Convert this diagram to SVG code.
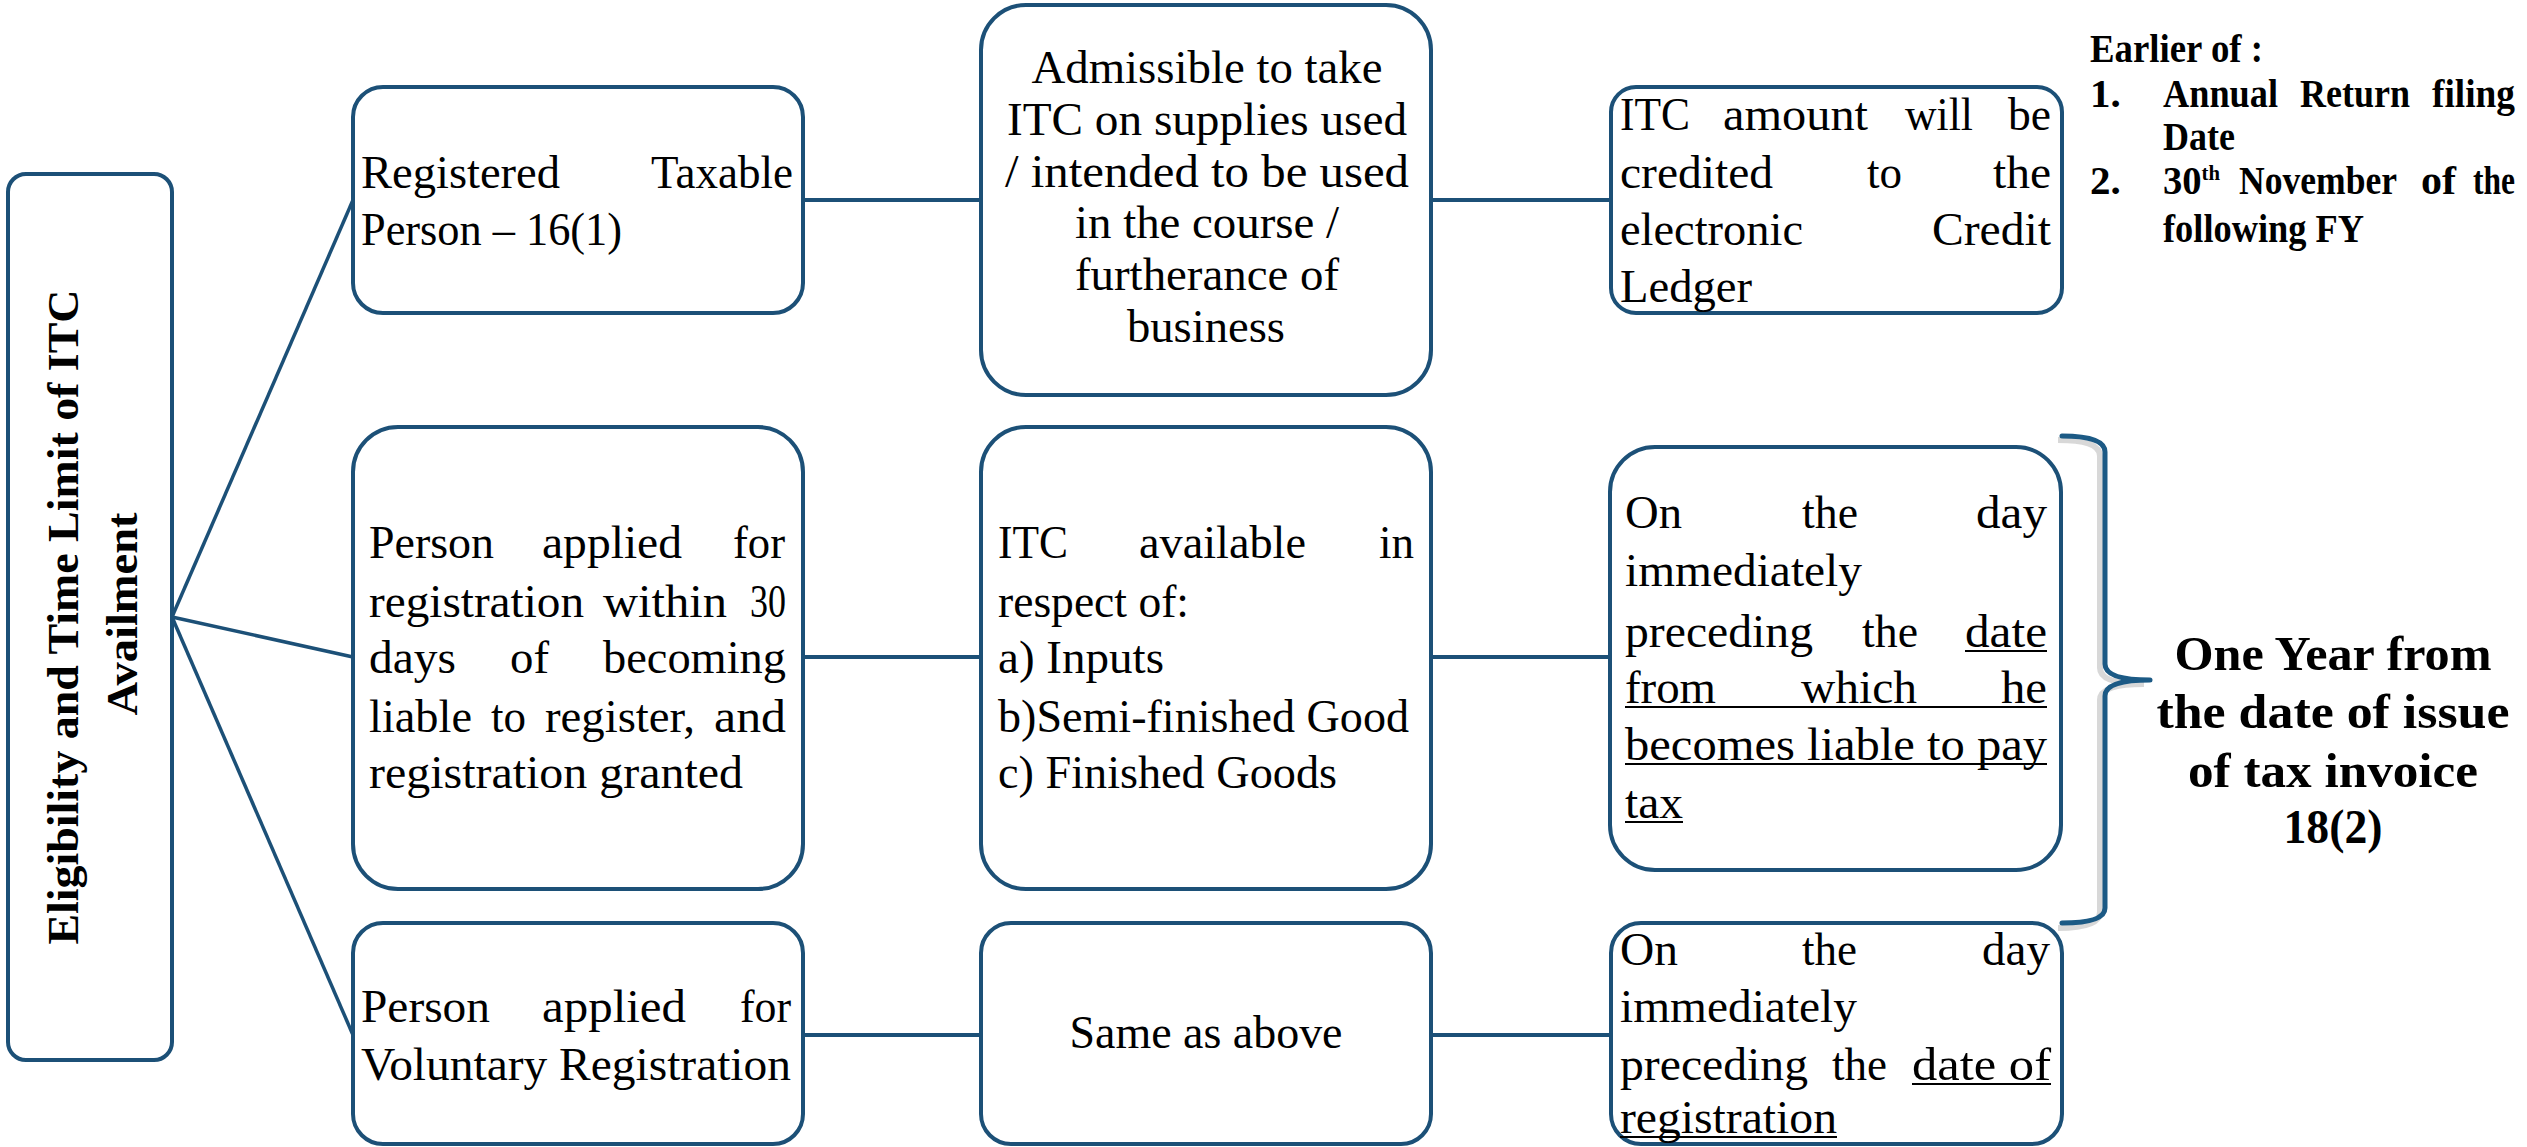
<svg xmlns="http://www.w3.org/2000/svg" width="2527" height="1147" viewBox="0 0 2527 1147">
<style>
.box{fill:#fff;stroke:#1c5077;stroke-width:4}
.con{stroke:#1c5077;stroke-width:4;fill:none}
.fan{stroke:#1c5077;stroke-width:3.5;fill:none}
.t{font-family:"Liberation Serif","Times New Roman",serif;font-size:46px;fill:#000}
.b{font-family:"Liberation Serif","Times New Roman",serif;font-weight:bold;fill:#000}
.u{stroke:#000;stroke-width:2.2}
</style>
<rect width="2527" height="1147" fill="#fff"/>
<g id="connectors">
<line class="fan" x1="172" y1="617" x2="353" y2="200"/>
<line class="fan" x1="172" y1="617" x2="353" y2="657"/>
<line class="fan" x1="172" y1="617" x2="353" y2="1035"/>
<line class="con" x1="803" y1="200" x2="981" y2="200"/>
<line class="con" x1="1431" y1="200" x2="1611" y2="200"/>
<line class="con" x1="803" y1="657" x2="981" y2="657"/>
<line class="con" x1="1431" y1="657" x2="1610" y2="657"/>
<line class="con" x1="803" y1="1035" x2="981" y2="1035"/>
<line class="con" x1="1431" y1="1035" x2="1611" y2="1035"/>
</g>
<g id="root">
<rect class="box" x="8" y="174" width="164" height="886" rx="18"/>
<text class="b" font-size="45" transform="translate(78,617) rotate(-90)" text-anchor="middle" textLength="655" lengthAdjust="spacingAndGlyphs">Eligibility and Time Limit of  ITC</text>
<text class="b" font-size="45" transform="translate(137,614) rotate(-90)" text-anchor="middle" textLength="203" lengthAdjust="spacingAndGlyphs">Availment</text>
</g>
<g id="registered">
<rect class="box" x="353" y="87" width="450" height="226" rx="30"/>
<text class="t" x="361" y="188" textLength="199" lengthAdjust="spacingAndGlyphs">Registered</text>
<text class="t" x="651" y="188" textLength="142" lengthAdjust="spacingAndGlyphs">Taxable</text>
<text class="t" x="361" y="245" textLength="261" lengthAdjust="spacingAndGlyphs">Person – 16(1)</text>
</g>
<g id="admissible">
<rect class="box" x="981" y="5" width="450" height="390" rx="45"/>
<text class="t" font-size="44" x="1207" y="83" text-anchor="middle" textLength="351" lengthAdjust="spacingAndGlyphs">Admissible to take</text>
<text class="t" font-size="44" x="1207" y="135" text-anchor="middle" textLength="400" lengthAdjust="spacingAndGlyphs">ITC on supplies used</text>
<text class="t" font-size="44" x="1207" y="187" text-anchor="middle" textLength="404" lengthAdjust="spacingAndGlyphs">/  intended to be used</text>
<text class="t" font-size="44" x="1207" y="238" text-anchor="middle" textLength="264" lengthAdjust="spacingAndGlyphs">in the course /</text>
<text class="t" font-size="44" x="1207" y="290" text-anchor="middle" textLength="264" lengthAdjust="spacingAndGlyphs">furtherance of</text>
<text class="t" font-size="44" x="1206" y="342" text-anchor="middle" textLength="158" lengthAdjust="spacingAndGlyphs">business</text>
</g>
<g id="itc-credit">
<rect class="box" x="1611" y="87" width="451" height="226" rx="25"/>
<text class="t" x="1620" y="130" textLength="70" lengthAdjust="spacingAndGlyphs">ITC</text>
<text class="t" x="1723" y="130" textLength="145" lengthAdjust="spacingAndGlyphs">amount</text>
<text class="t" x="1905" y="130" textLength="68" lengthAdjust="spacingAndGlyphs">will</text>
<text class="t" x="2008" y="130" textLength="43" lengthAdjust="spacingAndGlyphs">be</text>
<text class="t" x="1620" y="188" textLength="153" lengthAdjust="spacingAndGlyphs">credited</text>
<text class="t" x="1867" y="188" textLength="35" lengthAdjust="spacingAndGlyphs">to</text>
<text class="t" x="1993" y="188" textLength="58" lengthAdjust="spacingAndGlyphs">the</text>
<text class="t" x="1620" y="245" textLength="183" lengthAdjust="spacingAndGlyphs">electronic</text>
<text class="t" x="1932" y="245" textLength="119" lengthAdjust="spacingAndGlyphs">Credit</text>
<text class="t" x="1620" y="302" textLength="132" lengthAdjust="spacingAndGlyphs">Ledger</text>
</g>
<g id="earlier-note">
<text class="b" font-size="41" x="2090" y="62" textLength="173" lengthAdjust="spacingAndGlyphs">Earlier of :</text>
<text class="b" font-size="41" x="2090" y="107">1.</text>
<text class="b" font-size="41" x="2163" y="107" textLength="115" lengthAdjust="spacingAndGlyphs">Annual</text>
<text class="b" font-size="41" x="2300" y="107" textLength="110" lengthAdjust="spacingAndGlyphs">Return</text>
<text class="b" font-size="41" x="2432" y="107" textLength="83" lengthAdjust="spacingAndGlyphs">filing</text>
<text class="b" font-size="41" x="2163" y="150" textLength="72" lengthAdjust="spacingAndGlyphs">Date</text>
<text class="b" font-size="41" x="2090" y="194">2.</text>
<text class="b" font-size="41" x="2163" y="194" textLength="57" lengthAdjust="spacingAndGlyphs">30<tspan font-size="22" dy="-14">th</tspan></text>
<text class="b" font-size="41" x="2239" y="194" textLength="158" lengthAdjust="spacingAndGlyphs">November</text>
<text class="b" font-size="41" x="2421" y="194" textLength="35" lengthAdjust="spacingAndGlyphs">of</text>
<text class="b" font-size="41" x="2473" y="194" textLength="42" lengthAdjust="spacingAndGlyphs">the</text>
<text class="b" font-size="41" x="2163" y="242" textLength="201" lengthAdjust="spacingAndGlyphs">following FY</text>
</g>
<g id="applied-30days">
<rect class="box" x="353" y="427" width="450" height="462" rx="45"/>
<text class="t" x="369" y="558" textLength="125" lengthAdjust="spacingAndGlyphs">Person</text>
<text class="t" x="542" y="558" textLength="140" lengthAdjust="spacingAndGlyphs">applied</text>
<text class="t" x="733" y="558" textLength="52" lengthAdjust="spacingAndGlyphs">for</text>
<text class="t" x="369" y="617" textLength="215" lengthAdjust="spacingAndGlyphs">registration</text>
<text class="t" x="603" y="617" textLength="124" lengthAdjust="spacingAndGlyphs">within</text>
<text class="t" x="750" y="617" textLength="36" lengthAdjust="spacingAndGlyphs">30</text>
<text class="t" x="369" y="673" textLength="87" lengthAdjust="spacingAndGlyphs">days</text>
<text class="t" x="510" y="673" textLength="39" lengthAdjust="spacingAndGlyphs">of</text>
<text class="t" x="603" y="673" textLength="183" lengthAdjust="spacingAndGlyphs">becoming</text>
<text class="t" x="369" y="732" textLength="103" lengthAdjust="spacingAndGlyphs">liable</text>
<text class="t" x="491" y="732" textLength="35" lengthAdjust="spacingAndGlyphs">to</text>
<text class="t" x="545" y="732" textLength="150" lengthAdjust="spacingAndGlyphs">register,</text>
<text class="t" x="714" y="732" textLength="72" lengthAdjust="spacingAndGlyphs">and</text>
<text class="t" x="369" y="788" textLength="374" lengthAdjust="spacingAndGlyphs">registration granted</text>
</g>
<g id="itc-available">
<rect class="box" x="981" y="427" width="450" height="462" rx="45"/>
<text class="t" x="998" y="558" textLength="70" lengthAdjust="spacingAndGlyphs">ITC</text>
<text class="t" x="1139" y="558" textLength="167" lengthAdjust="spacingAndGlyphs">available</text>
<text class="t" x="1379" y="558" textLength="35" lengthAdjust="spacingAndGlyphs">in</text>
<text class="t" x="998" y="617" textLength="191" lengthAdjust="spacingAndGlyphs">respect of:</text>
<text class="t" x="998" y="673" textLength="166" lengthAdjust="spacingAndGlyphs">a) Inputs</text>
<text class="t" x="998" y="732" textLength="411" lengthAdjust="spacingAndGlyphs">b)Semi-finished Good</text>
<text class="t" x="998" y="788" textLength="339" lengthAdjust="spacingAndGlyphs">c) Finished Goods</text>
</g>
<g id="liable-day">
<rect class="box" x="1610" y="447" width="451" height="423" rx="45"/>
<text class="t" x="1625" y="528" textLength="57" lengthAdjust="spacingAndGlyphs">On</text>
<text class="t" x="1802" y="528" textLength="56" lengthAdjust="spacingAndGlyphs">the</text>
<text class="t" x="1976" y="528" textLength="71" lengthAdjust="spacingAndGlyphs">day</text>
<text class="t" x="1625" y="586" textLength="237" lengthAdjust="spacingAndGlyphs">immediately</text>
<text class="t" x="1625" y="647" textLength="188" lengthAdjust="spacingAndGlyphs">preceding</text>
<text class="t" x="1862" y="647" textLength="56" lengthAdjust="spacingAndGlyphs">the</text>
<text class="t" x="1965" y="647" textLength="82" lengthAdjust="spacingAndGlyphs">date</text>
<text class="t" x="1625" y="703" textLength="91" lengthAdjust="spacingAndGlyphs">from</text>
<text class="t" x="1801" y="703" textLength="116" lengthAdjust="spacingAndGlyphs">which</text>
<text class="t" x="2001" y="703" textLength="46" lengthAdjust="spacingAndGlyphs">he</text>
<text class="t" x="1625" y="760" textLength="422" lengthAdjust="spacingAndGlyphs">becomes liable to pay</text>
<text class="t" x="1625" y="818" textLength="58" lengthAdjust="spacingAndGlyphs">tax</text>
<line class="u" x1="1965" y1="651" x2="2047" y2="651"/>
<line class="u" x1="1625" y1="707" x2="2047" y2="707"/>
<line class="u" x1="1625" y1="764" x2="2047" y2="764"/>
<line class="u" x1="1625" y1="822" x2="1683" y2="822"/>
</g>
<g id="brace">
<path d="M2058,440 Q2100,440 2100,456 L2100,668 Q2100,684 2144,684 M2100,700 Q2100,684 2144,684 M2100,700 L2100,912 Q2100,928 2058,928" fill="none" stroke="#c8c8c8" stroke-width="6" opacity="0.7"/>
<path d="M2062,436 Q2105,436 2105,452 L2105,664 Q2105,680 2150,680 M2105,696 Q2105,680 2150,680 M2105,696 L2105,908 Q2105,923 2062,923" fill="none" stroke="#1c5a85" stroke-width="5" stroke-linecap="round"/>
</g>
<g id="one-year">
<text class="b" font-size="48" x="2333" y="670" text-anchor="middle" textLength="317" lengthAdjust="spacingAndGlyphs">One Year from</text>
<text class="b" font-size="48" x="2333" y="728" text-anchor="middle" textLength="353" lengthAdjust="spacingAndGlyphs">the date of issue</text>
<text class="b" font-size="48" x="2333" y="787" text-anchor="middle" textLength="290" lengthAdjust="spacingAndGlyphs">of tax invoice</text>
<text class="b" font-size="48" x="2333" y="843" text-anchor="middle" textLength="99" lengthAdjust="spacingAndGlyphs">18(2)</text>
</g>
<g id="voluntary">
<rect class="box" x="353" y="923" width="450" height="221" rx="30"/>
<text class="t" x="361" y="1022" textLength="129" lengthAdjust="spacingAndGlyphs">Person</text>
<text class="t" x="542" y="1022" textLength="144" lengthAdjust="spacingAndGlyphs">applied</text>
<text class="t" x="740" y="1022" textLength="51" lengthAdjust="spacingAndGlyphs">for</text>
<text class="t" x="361" y="1080" textLength="430" lengthAdjust="spacingAndGlyphs">Voluntary Registration</text>
</g>
<g id="same-as-above">
<rect class="box" x="981" y="923" width="450" height="221" rx="30"/>
<text class="t" x="1206" y="1048" text-anchor="middle" textLength="273" lengthAdjust="spacingAndGlyphs">Same as above</text>
</g>
<g id="registration-day">
<rect class="box" x="1611" y="923" width="451" height="221" rx="30"/>
<text class="t" x="1620" y="965" textLength="58" lengthAdjust="spacingAndGlyphs">On</text>
<text class="t" x="1802" y="965" textLength="55" lengthAdjust="spacingAndGlyphs">the</text>
<text class="t" x="1982" y="965" textLength="68" lengthAdjust="spacingAndGlyphs">day</text>
<text class="t" x="1620" y="1022" textLength="237" lengthAdjust="spacingAndGlyphs">immediately</text>
<text class="t" x="1620" y="1080" textLength="188" lengthAdjust="spacingAndGlyphs">preceding</text>
<text class="t" x="1832" y="1080" textLength="55" lengthAdjust="spacingAndGlyphs">the</text>
<text class="t" x="1912" y="1080" textLength="139" lengthAdjust="spacingAndGlyphs">date of</text>
<text class="t" x="1620" y="1133" textLength="217" lengthAdjust="spacingAndGlyphs">registration</text>
<line class="u" x1="1912" y1="1084" x2="2051" y2="1084"/>
<line class="u" x1="1620" y1="1137" x2="1837" y2="1137"/>
</g>
</svg>
